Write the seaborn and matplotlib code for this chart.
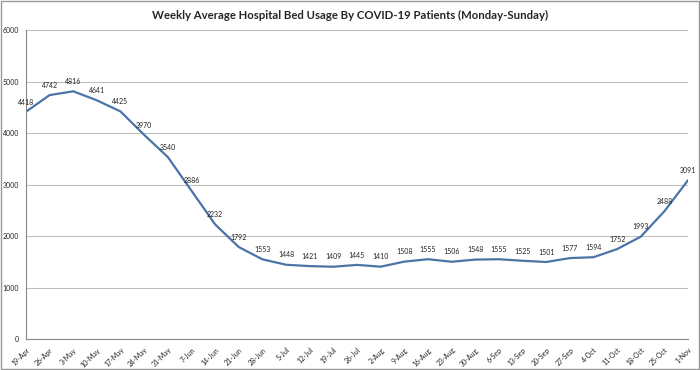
import pandas as pd
import matplotlib.pyplot as plt
import seaborn as sns

# weekly average bed usage (Monday-Sunday)
weeks = ['19-Apr', '26-Apr', '3-May', '10-May', '17-May', '24-May', '31-May',
         '7-Jun', '14-Jun', '21-Jun', '28-Jun', '5-Jul', '12-Jul', '19-Jul',
         '26-Jul', '2-Aug', '9-Aug', '16-Aug', '23-Aug', '30-Aug', '6-Sep',
         '13-Sep', '20-Sep', '27-Sep', '4-Oct', '11-Oct', '18-Oct', '25-Oct', '1-Nov']
beds = [4418, 4742, 4816, 4641, 4425, 3970, 3540, 2886, 2232, 1792, 1553, 1448,
        1421, 1409, 1445, 1410, 1508, 1555, 1506, 1548, 1555, 1525, 1501, 1577,
        1594, 1752, 1993, 2488, 3091]
y_ticks = [0, 1000, 2000, 3000, 4000, 5000, 6000]

df = pd.DataFrame({'Week': weeks, 'Beds': beds})
df['pos'] = range(len(df))

sns.set_style('white')
plt.rcParams['font.family'] = ['Lato', 'DejaVu Sans']

fig = plt.figure(figsize=(7, 3.7), dpi=100)
ax = fig.add_axes([0.037, 0.083, 0.946, 0.835])

sns.lineplot(x='pos', y='Beds', data=df, ax=ax, color='#4a74a6', linewidth=1.6)

for p, v in zip(df['pos'], df['Beds']):
    ax.annotate(str(v), (p, v), xytext=(0, 4.5), textcoords='offset points',
                ha='center', va='bottom', fontsize=5, color='#222222')

ax.set_xlim(0, len(weeks) - 1)
ax.set_ylim(0, 6000)
ax.set_yticks(y_ticks)
ax.set_yticklabels([str(t) for t in y_ticks], fontsize=5)
ax.set_xticks(df['pos'])
ax.set_xticklabels(weeks, rotation=45, ha='right', rotation_mode='anchor', fontsize=5)
ax.set_xlabel('')
ax.set_ylabel('')
ax.grid(axis='y', color='#bfbfbf', linewidth=0.8)
ax.tick_params(axis='both', length=3, color='#888888', direction='out', pad=2)
for side in ['top', 'right']:
    ax.spines[side].set_visible(False)
for side in ['left', 'bottom']:
    ax.spines[side].set_color('#888888')
    ax.spines[side].set_linewidth(0.8)

fig.suptitle('Weekly Average Hospital Bed Usage By COVID-19 Patients (Monday-Sunday)',
             fontsize=8.2, fontweight='bold', y=0.972)

border = plt.Rectangle((0.002, 0.003), 0.996, 0.994, transform=fig.transFigure,
                       fill=False, edgecolor='#999999', linewidth=1)
fig.patches.append(border)

fig.savefig('out.png', dpi=100)
